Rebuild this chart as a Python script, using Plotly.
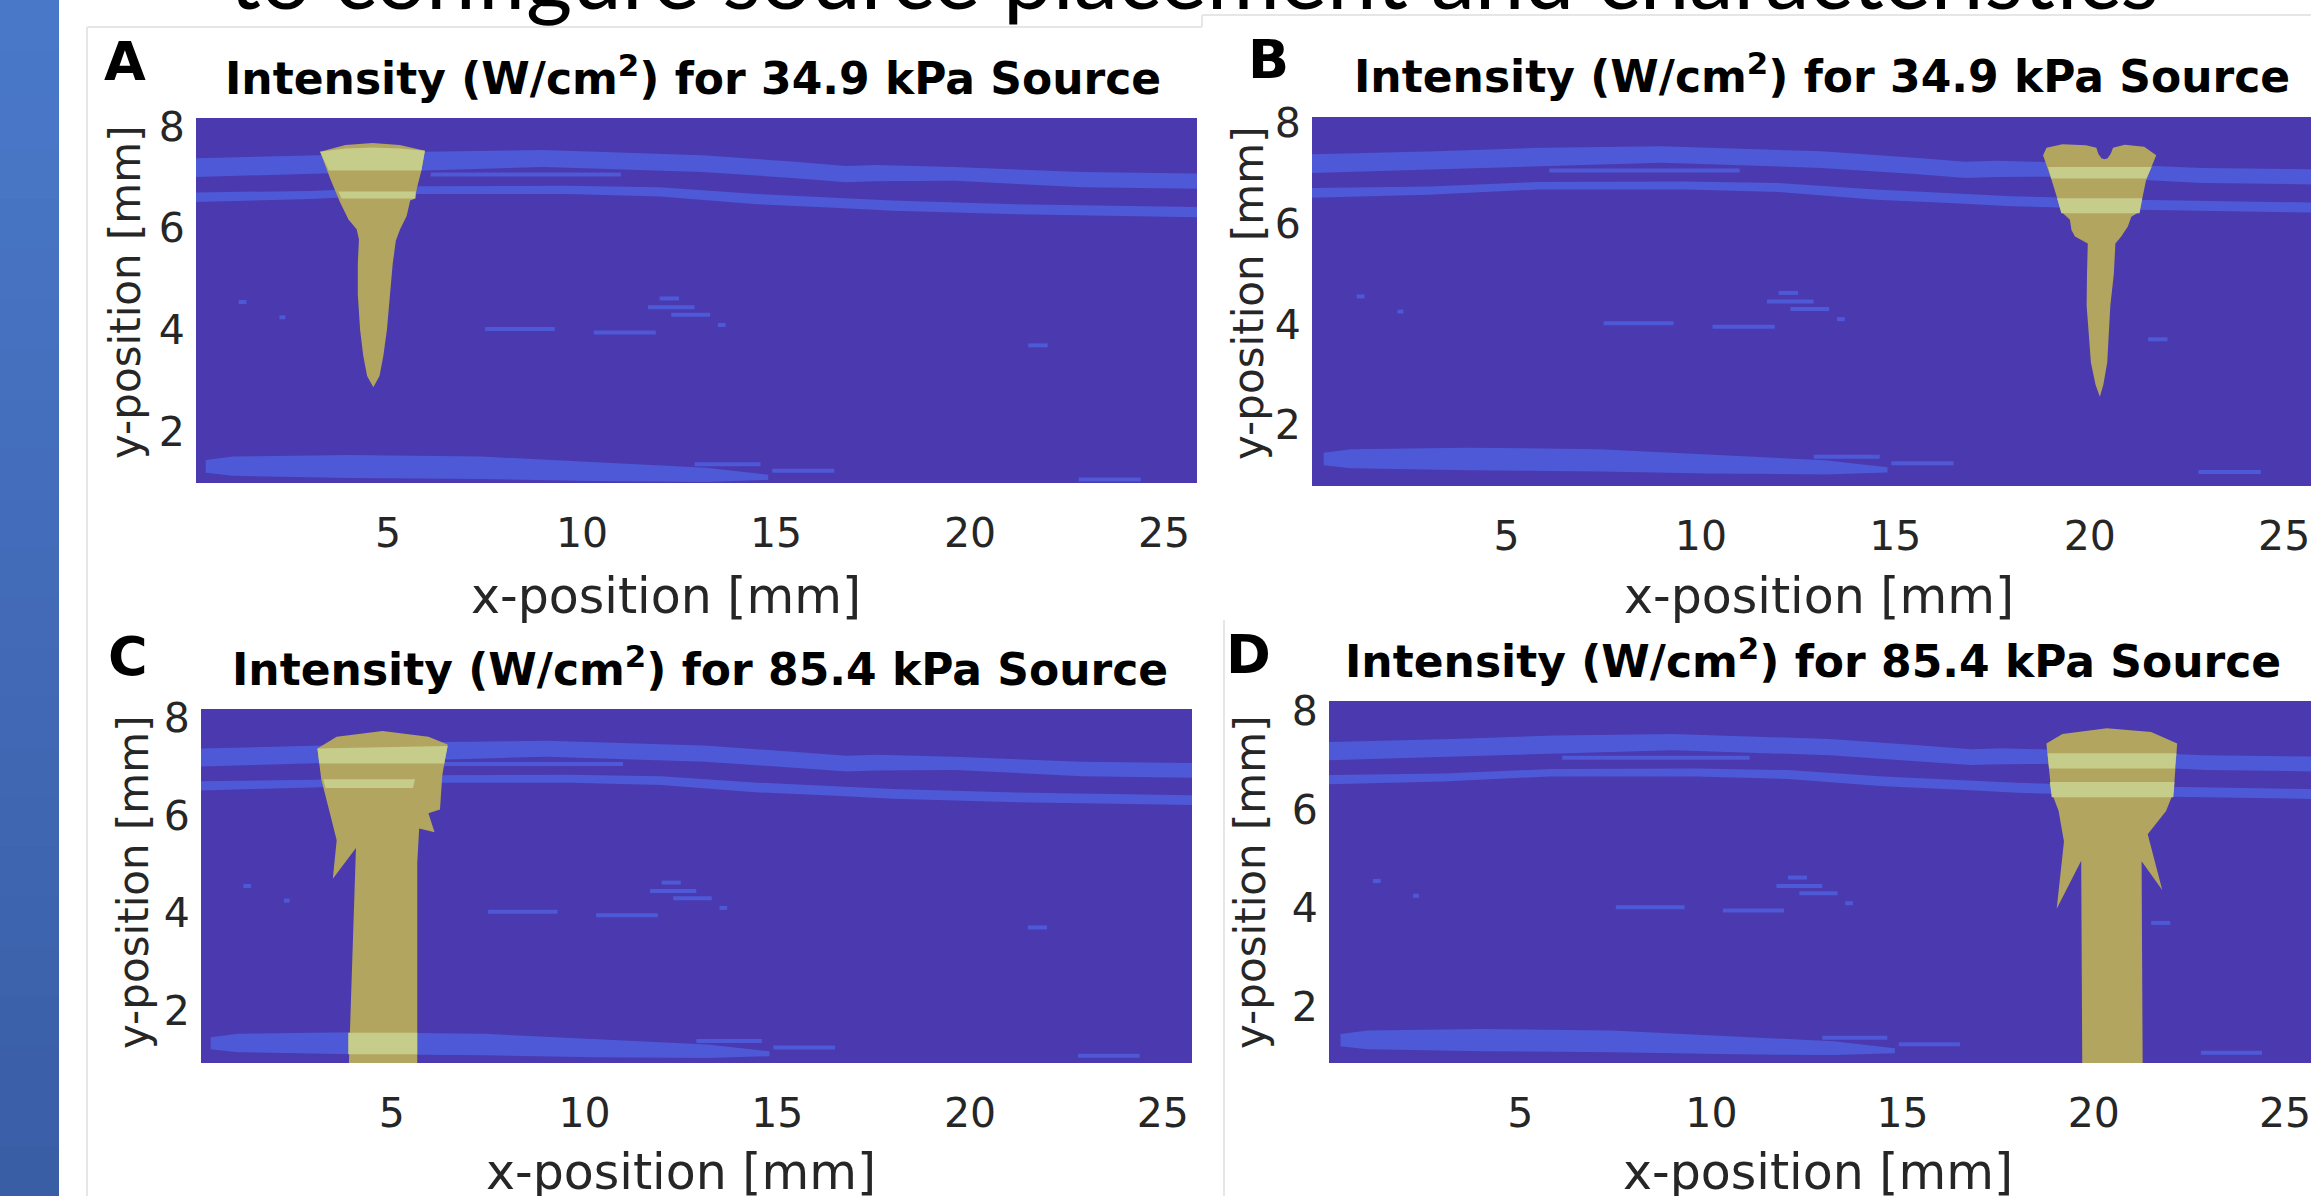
import plotly.graph_objects as go

W, H = 2311, 1196

# ---------------- colours ----------------
BG = '#4B39AF'
BAND = '#4D59D6'
GOLD = '#B2A55F'
LIGHT = '#C6CD8A'

# ---------------- shared tissue layers (mm) ----------------
upper_band_x  = [0.0, 3.2, 5.9, 9.0, 13.1, 15.5, 16.8, 17.6, 19.6, 22.9, 26.0]
upper_band_lo = [7.00, 7.07, 7.13, 7.20, 7.10, 6.98, 6.90, 6.92, 6.93, 6.80, 6.77]
upper_band_hi = [7.37, 7.43, 7.50, 7.53, 7.43, 7.30, 7.22, 7.24, 7.20, 7.10, 7.07]

lower_band_x  = [0.0, 3.0, 5.8, 9.6, 12.0, 14.5, 16.5, 18.0, 21.2, 26.0]
lower_band_lo = [6.51, 6.57, 6.67, 6.67, 6.62, 6.47, 6.40, 6.34, 6.27, 6.21]
lower_band_hi = [6.70, 6.73, 6.82, 6.83, 6.80, 6.67, 6.60, 6.54, 6.47, 6.41]

bottom_band_x  = [0.3, 1.0, 4.0, 7.4, 10.2, 13.2, 14.8]
bottom_band_lo = [1.20, 1.14, 1.10, 1.08, 1.04, 1.02, 1.06]
bottom_band_hi = [1.45, 1.52, 1.55, 1.52, 1.42, 1.30, 1.16]

# small scattered reflectors: start x, end x, y (mm)
speck_x0 = [1.15, 2.20, 7.5, 10.3, 11.7, 12.3, 12.0, 13.5, 21.5, 6.1, 22.8, 12.9, 14.9]
speck_x1 = [1.35, 2.35, 9.3, 11.9, 12.9, 13.3, 12.5, 13.7, 22.0, 11.0, 24.4, 14.6, 16.5]
speck_y  = [4.55, 4.25, 4.02, 3.95, 4.45, 4.30, 4.62, 4.10, 3.70, 7.05, 1.07, 1.37, 1.24]

# ---------------- high-intensity regions (outline, mm) ----------------
plume_A_x = [4.60, 5.30, 5.95, 5.85, 5.74, 5.70, 5.57, 5.48, 5.31, 5.20, 5.12, 5.05, 4.97, 4.88, 4.78, 4.62,
             4.46, 4.36, 4.28, 4.22, 4.22, 4.25, 4.19, 3.98, 3.76, 3.51, 3.25, 3.90]
plume_A_y = [7.67, 7.63, 7.52, 7.10, 6.77, 6.58, 6.54, 6.24, 5.98, 5.75, 5.30, 4.70, 4.00, 3.50, 3.10, 2.88,
             3.10, 3.50, 4.00, 4.70, 5.30, 5.78, 5.98, 6.17, 6.51, 6.97, 7.50, 7.63]
light_A = [([3.25, 3.90, 4.60, 5.30, 5.95, 5.86, 3.47], [7.50, 7.56, 7.58, 7.56, 7.52, 7.13, 7.13]),
           ([3.72, 5.71, 5.70, 3.80], [6.72, 6.72, 6.58, 6.58])]

plume_B_x = [18.80, 18.89, 19.30, 19.90, 20.17, 20.22, 20.30, 20.38, 20.46, 20.54, 20.60, 20.90, 21.40, 21.71,
             21.45, 21.28, 21.07, 20.98, 20.81, 20.66, 20.62, 20.53, 20.45, 20.35, 20.26, 20.15, 20.03, 19.92,
             19.93, 19.95, 19.62, 19.53, 19.49, 19.27, 19.02]
plume_B_y = [7.35, 7.50, 7.57, 7.55, 7.50, 7.38, 7.29, 7.27, 7.29, 7.38, 7.50, 7.56, 7.52, 7.35,
             6.86, 6.23, 6.13, 5.94, 5.74, 5.60, 5.00, 4.37, 3.24, 2.80, 2.56, 2.80, 3.24, 4.37,
             5.00, 5.60, 5.74, 5.87, 6.07, 6.23, 6.86]
light_B = [([18.93, 21.59, 21.46, 19.01], [7.12, 7.12, 6.89, 6.89]),
           ([19.16, 21.35, 21.28, 19.27], [6.50, 6.50, 6.20, 6.20])]

plume_C_x = [4.76, 5.95, 6.45, 6.31, 6.25, 5.95, 6.11, 5.71, 5.66, 5.66, 3.87, 4.01, 4.07, 3.47, 3.57, 3.37,
             3.17, 3.07, 3.57]
plume_C_y = [7.73, 7.61, 7.45, 6.82, 6.12, 6.04, 5.65, 5.73, 5.02, 0.50, 0.50, 4.23, 5.33, 4.70, 5.49, 6.12,
             6.74, 7.37, 7.61]
light_C = [([3.07, 6.45, 6.36, 3.12], [7.37, 7.42, 7.06, 7.06]),
           ([3.22, 5.60, 5.55, 3.28], [6.74, 6.74, 6.56, 6.56]),
           ([3.87, 5.66, 5.66, 3.87], [1.54, 1.54, 1.10, 1.10])]

plume_D_x = [20.34, 21.50, 22.18, 22.09, 21.89, 21.41, 21.79, 21.25, 21.28, 19.70, 19.67, 19.03, 19.22, 19.08,
             18.89, 18.76, 19.18]
plume_D_y = [7.65, 7.57, 7.34, 6.36, 5.97, 5.50, 4.37, 4.95, 0.50, 0.50, 4.96, 3.99, 5.35, 5.97,
             6.36, 7.34, 7.53]
light_D = [([18.79, 22.16, 22.12, 18.83], [7.14, 7.14, 6.83, 6.83]),
           ([18.85, 22.11, 22.08, 18.90], [6.56, 6.56, 6.25, 6.25])]

x_ticks = [5, 10, 15, 20, 25]
y_ticks = [2, 4, 6, 8]

panel_letters = ['A', 'B', 'C', 'D']
panel_titles = ['Intensity (W/cm<sup>2</sup>) for 34.9 kPa Source',
                'Intensity (W/cm<sup>2</sup>) for 34.9 kPa Source',
                'Intensity (W/cm<sup>2</sup>) for 85.4 kPa Source',
                'Intensity (W/cm<sup>2</sup>) for 85.4 kPa Source']
plumes = [(plume_A_x, plume_A_y, light_A), (plume_B_x, plume_B_y, light_B),
          (plume_C_x, plume_C_y, light_C), (plume_D_x, plume_D_y, light_D)]

slide_title = 'to configure source placement and characteristics'

# ---------------- layout geometry (pixels) ----------------
plot_px = [(196, 1197, 118, 483), (1312, 2311, 117, 486), (201, 1192, 709, 1063), (1329, 2311, 701, 1063)]
x_ranges = [[0.05, 25.85], [0.0, 25.69], [0.05, 25.76], [0.0, 25.68]]
y_ranges = [[1.0, 8.16], [0.79, 8.11], [0.92, 8.18], [0.86, 8.2]]
letter_px = [(125, 62), (1268, 60), (128, 656), (1248, 654)]
title_px = [(693, 95), (1822, 93), (700, 686), (1813, 678)]
xtitle_px = [(666, 614), (1819, 614), (681, 1189), (1818, 1189)]
ytitle_px = [(125, 292), (1248, 293), (133, 882), (1250, 882)]


def px(xp):
    return xp / W


def py(yp):
    return 1 - yp / H


fig = go.Figure()


def poly(xs, ys, color, xa, ya):
    fig.add_trace(go.Scatter(x=list(xs), y=list(ys), fill='toself', fillcolor=color, mode='lines',
                             line=dict(width=0, color=color), xaxis=xa, yaxis=ya,
                             hoverinfo='skip', showlegend=False))


layout_axes = {}
annotations = []
for i in range(4):
    n = i + 1
    xa = 'x' if n == 1 else f'x{n}'
    ya = 'y' if n == 1 else f'y{n}'
    for bx, lo, hi in [(upper_band_x, upper_band_lo, upper_band_hi),
                       (lower_band_x, lower_band_lo, lower_band_hi),
                       (bottom_band_x, bottom_band_lo, bottom_band_hi)]:
        poly(bx + bx[::-1], lo + hi[::-1], BAND, xa, ya)
    sx, sy = [], []
    for a, b, c in zip(speck_x0, speck_x1, speck_y):
        sx += [a, b, None]
        sy += [c, c, None]
    fig.add_trace(go.Scatter(x=sx, y=sy, mode='lines', line=dict(width=4, color=BAND),
                             xaxis=xa, yaxis=ya, hoverinfo='skip', showlegend=False))
    plx, ply, lights = plumes[i]
    poly(plx, ply, GOLD, xa, ya)
    for lx, ly in lights:
        poly(lx, ly, LIGHT, xa, ya)

    x0, x1, y0, y1 = plot_px[i]
    xkey = 'xaxis' if n == 1 else f'xaxis{n}'
    ykey = 'yaxis' if n == 1 else f'yaxis{n}'
    layout_axes[xkey] = dict(domain=[px(x0), px(x1)], range=x_ranges[i], anchor=ya,
                             tickvals=x_ticks, ticks='outside', ticklen=14, tickcolor='rgba(0,0,0,0)',
                             ticklabeloverflow='allow', automargin=False,
                             tickfont=dict(family='DejaVu Sans', size=41, color='#262626'),
                             showgrid=False, zeroline=False, showline=False, fixedrange=True)
    layout_axes[ykey] = dict(domain=[py(y1), py(y0)], range=y_ranges[i], anchor=xa,
                             tickvals=y_ticks, ticks='outside', ticklen=2, tickcolor='rgba(0,0,0,0)',
                             ticklabeloverflow='allow', automargin=False,
                             tickfont=dict(family='DejaVu Sans', size=41, color='#262626'),
                             showgrid=False, zeroline=False, showline=False, fixedrange=True)

    lx_, ly_ = letter_px[i]
    annotations.append(dict(text='<b>' + panel_letters[i] + '</b>', x=px(lx_), y=py(ly_),
                            xref='paper', yref='paper', xanchor='center', yanchor='middle', showarrow=False,
                            font=dict(family='DejaVu Sans', size=54, color='black')))
    tx, tb = title_px[i]
    annotations.append(dict(text='<b>' + panel_titles[i] + '</b>', x=px(tx), y=py(tb + 11),
                            xref='paper', yref='paper', xanchor='center', yanchor='bottom',
                            showarrow=False,
                            font=dict(family='DejaVu Sans', size=44, color='black')))
    ax_, ab_ = xtitle_px[i]
    annotations.append(dict(text='x-position [mm]', x=px(ax_), y=py(ab_ - 17), xref='paper', yref='paper',
                            xanchor='center', yanchor='middle', showarrow=False,
                            font=dict(family='DejaVu Sans', size=49, color='#262626')))
    yx_, yy_ = ytitle_px[i]
    annotations.append(dict(text='y-position [mm]', x=px(yx_), y=py(yy_), xref='paper', yref='paper',
                            xanchor='center', yanchor='middle', textangle=-90, showarrow=False,
                            font=dict(family='DejaVu Sans', size=42, color='#262626')))

# partially visible slide title at the very top
annotations.append(dict(text=slide_title, x=px(1194), y=py(6 - 0.35 * 89), xref='paper', yref='paper',
                        xanchor='center', yanchor='middle', showarrow=False,
                        font=dict(family='Lato', size=89, color='black')))

# left blue slide strip (vertical gradient)
shapes = []
n_slices = 24
top_rgb = (74, 120, 201)
bot_rgb = (58, 94, 166)
for k in range(n_slices):
    t = k / (n_slices - 1)
    c = tuple(round(top_rgb[j] + (bot_rgb[j] - top_rgb[j]) * t) for j in range(3))
    shapes.append(dict(type='rect', xref='paper', yref='paper', x0=0, x1=px(59),
                       y0=max(0, 1 - (k + 1) / n_slices - 0.001), y1=1 - k / n_slices,
                       fillcolor='rgb(%d,%d,%d)' % c, line=dict(width=0), layer='below'))
# faint borders of the pasted figure images
for (xa0, ya0, xa1, ya1) in [(87, 27, 1202, 27), (1202, 15, 2311, 15), (1202, 15, 1202, 27),
                             (87, 27, 87, 1196), (1224, 620, 1224, 1196)]:
    shapes.append(dict(type='line', xref='paper', yref='paper', x0=px(xa0), x1=px(xa1),
                       y0=py(ya0), y1=py(ya1), line=dict(color='#e6e6e6', width=2), layer='below'))

fig.update_layout(width=W, height=H, autosize=False,
                  margin=dict(l=0, r=0, t=0, b=0, pad=0, autoexpand=False),
                  paper_bgcolor='white', plot_bgcolor=BG, showlegend=False,
                  annotations=annotations, shapes=shapes, **layout_axes)

pin = ("var d=document.getElementById('{plot_id}');d.style.position='fixed';d.style.left='0px';"
       "d.style.top='0px';document.body.style.margin='0';document.body.style.overflow='hidden';")
fig.write_html('out.html', post_script=pin, config={'displayModeBar': False})
